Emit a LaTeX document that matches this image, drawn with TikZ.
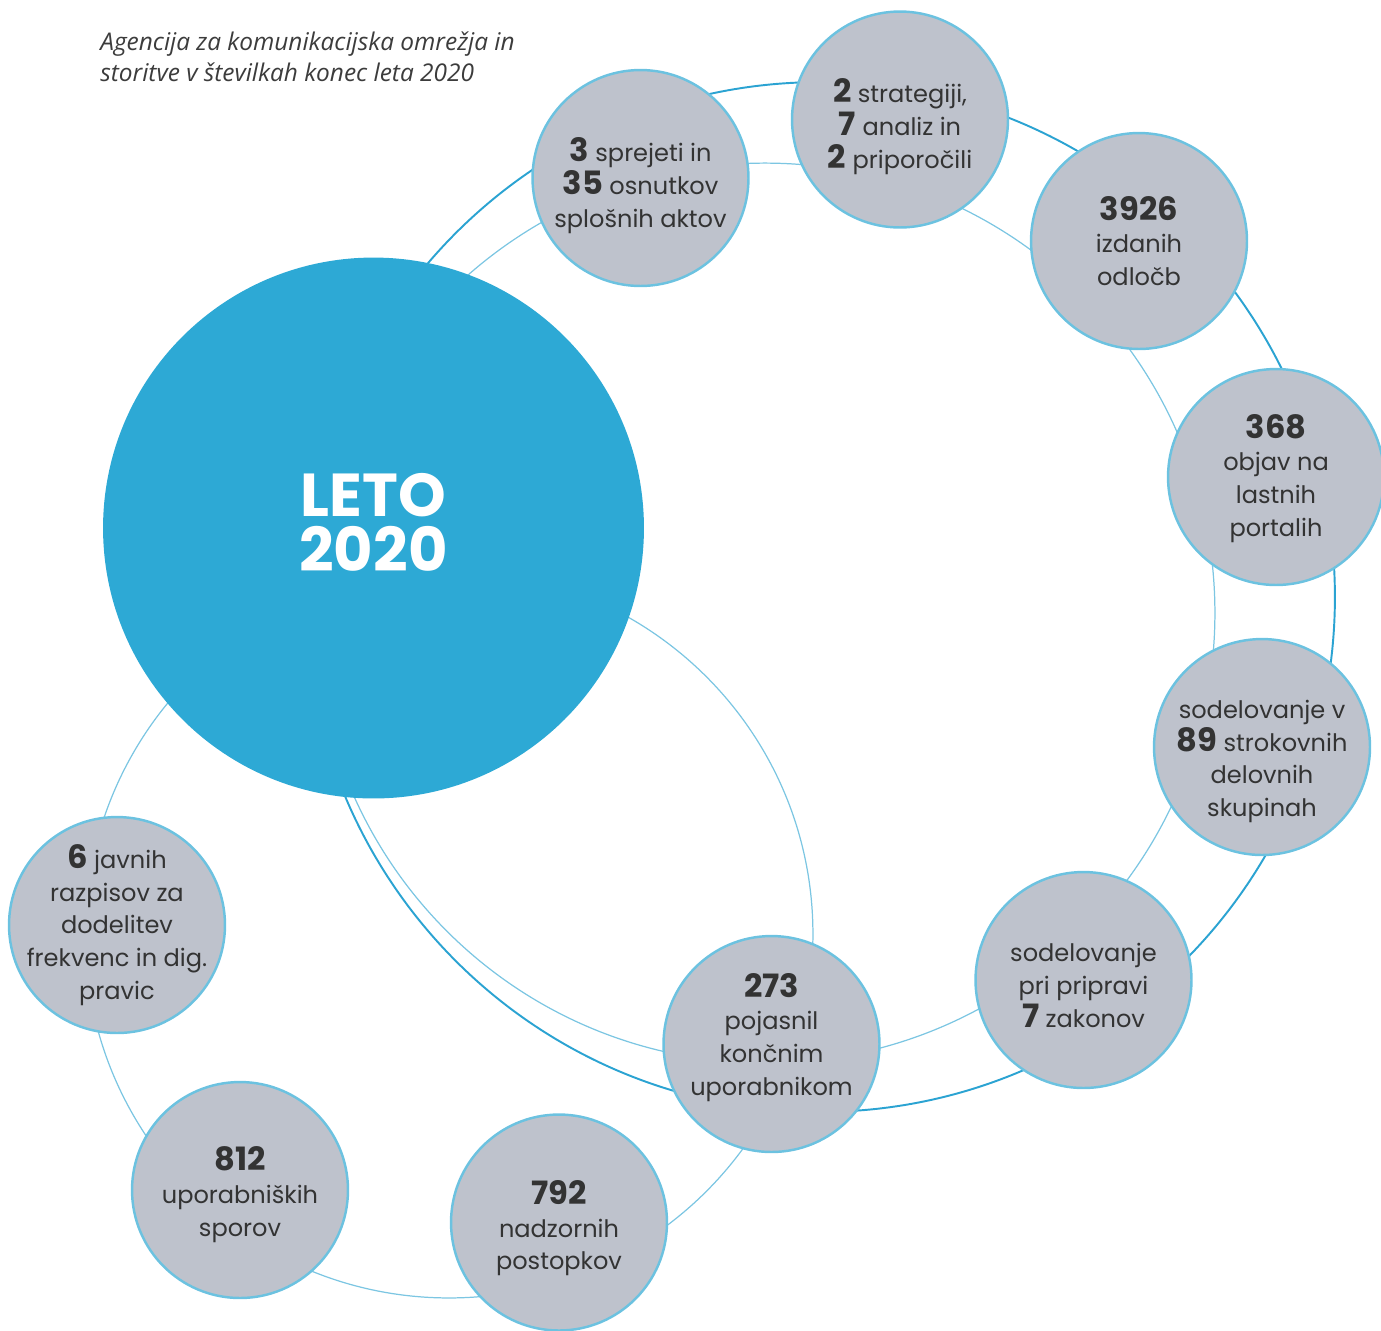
\documentclass[tikz,border=0pt]{standalone}
\usepackage{fontspec}
\setmainfont{Poppins}
\newfontfamily\titlefont{Open Sans}
\usepackage{tikz}
\usetikzlibrary{positioning}
\definecolor{letoblue}{HTML}{2DA9D5}
\definecolor{ringblue}{HTML}{2BA3D2}
\definecolor{thinblue}{HTML}{7CC6E2}
\definecolor{statgray}{HTML}{BEC2CC}
\definecolor{statedge}{HTML}{6CC2E0}
\definecolor{textgray}{HTML}{333333}
\definecolor{titlegray}{HTML}{3C3C3C}
\newcommand{\statnum}[1]{{\fontsize{18.3}{18.7}\selectfont\bfseries #1}}
\tikzset{
    stat/.style={circle, draw=statedge, line width=1.4pt, fill=statgray, minimum size=4.32cm, inner sep=0pt},
    stattext/.style={align=center, inner sep=0pt, text=textgray, font=\fontsize{13.7}{18.7}\selectfont},
    yearbox/.style={circle, fill=letoblue, minimum size=10.82cm, inner sep=0pt},
    yeartext/.style={align=center, inner sep=0pt, text=white, font=\fontsize{34.5}{31.5}\selectfont\bfseries},
    outerring/.style={draw=ringblue, line width=1.1pt},
    innerring/.style={draw=thinblue, line width=0.7pt},
    heading/.style={anchor=base west, align=left, inner sep=0pt, text=titlegray, font=\titlefont\itshape\fontsize{13.9}{17.6}\selectfont}
}

\begin{document}
\begin{tikzpicture}[x=0.02cm, y=-0.02cm]
    \useasboundingbox (0,0) rectangle (1381,1330);
    % rings behind the circles
    \coordinate (outerc) at (820,597);
    \coordinate (innerc) at (765,613);
    \coordinate (lowc) at (449,934);
    \draw[outerring] (outerc) circle[radius=10.30cm];
    \draw[innerring] (innerc) circle[radius=9.00cm];
    \draw[innerring] (lowc) circle[radius=7.28cm];

    \node[heading] (title) at (100,81) {Agencija za komunikacijska omrežja in\\storitve v številkah konec leta 2020};

    \node[yearbox, label={[yeartext, yshift=3.2pt]center:{LETO\\2020}}] (leto) at (373.5,528) {};

    % stat circles, text sits a little off the centre
    \node[stat, label={[stattext, yshift=-4.2pt]center:{\statnum{3} sprejeti in\\\statnum{35} osnutkov\\splošnih aktov}}] (akti) at (640.5,178) {};
    \node[stat, label={[stattext, yshift=-4.2pt]center:{\statnum{2} strategiji,\\\statnum{7} analiz in\\\statnum{2} priporočili}}] (strat) at (900,119.5) {};
    \node[stat, label={[stattext]center:{\statnum{3926}\\izdanih\\odločb}}] (odlocbe) at (1139,241) {};
    \node[stat, label={[stattext, yshift=-0.8pt]center:{\statnum{368}\\objav na\\lastnih\\portalih}}] (objave) at (1276,477) {};
    \node[stat, label={[stattext, yshift=-8.2pt]center:{sodelovanje v\\\statnum{89} strokovnih\\delovnih\\skupinah}}] (skupine) at (1262,747) {};
    \node[stat, label={[stattext, yshift=-3.1pt]center:{sodelovanje\\pri pripravi\\\statnum{7} zakonov}}] (zakoni) at (1083.5,980) {};
    \node[stat, label={[stattext, yshift=3.7pt]center:{\statnum{273}\\pojasnil\\končnim\\uporabnikom}}] (pojasnila) at (771.5,1044) {};
    \node[stat, label={[stattext, yshift=-3.2pt]center:{\statnum{792}\\nadzornih\\postopkov}}] (nadzor) at (559,1222.5) {};
    \node[stat, label={[stattext, yshift=-2.7pt]center:{\statnum{812}\\uporabniških\\sporov}}] (spori) at (240,1190) {};
    \node[stat, label={[stattext]center:{\statnum{6} javnih\\razpisov za\\dodelitev\\frekvenc in dig.\\pravic}}] (razpisi) at (117,925) {};
\end{tikzpicture}
\end{document}
